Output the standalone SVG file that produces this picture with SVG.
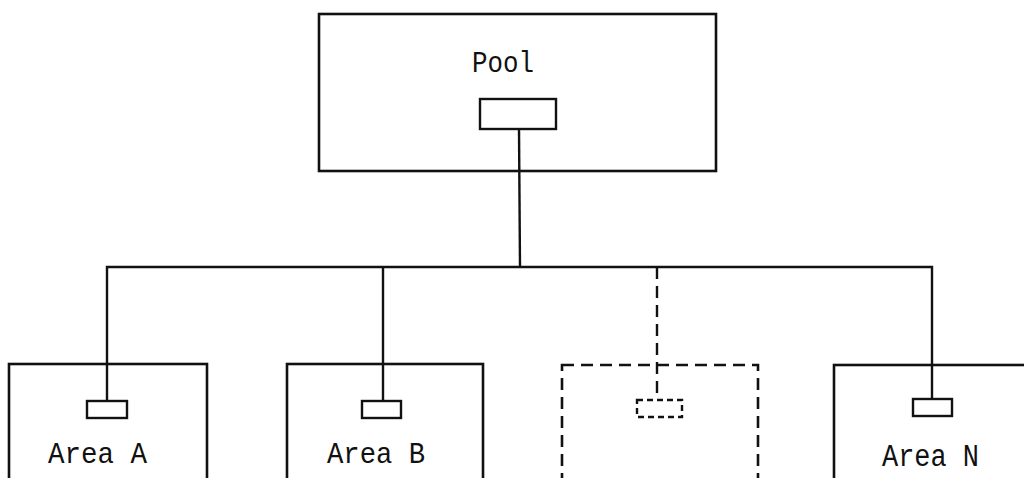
<svg xmlns="http://www.w3.org/2000/svg" width="1024" height="478" viewBox="0 0 1024 478">
<style>
.box{fill:none;stroke:#111;stroke-width:2.6}
.port{fill:#fff;stroke:#111;stroke-width:2.4}
.dash{stroke-dasharray:12 7}
.sdash{stroke-dasharray:6 4}
.line{fill:none;stroke:#111;stroke-width:2.4}
text{font-family:"Liberation Mono","DejaVu Sans Mono",monospace;font-size:29px;fill:#111}
</style>
<rect width="1024" height="478" fill="#fff"/>
<g id="connectors">
<line class="line" x1="519" y1="129" x2="520" y2="267"/>
<polyline class="line" points="107,401 107,267 932,267 932,399"/>
<line class="line" x1="383" y1="267" x2="383" y2="401"/>
<line class="line dash" x1="657" y1="267" x2="657" y2="400"/>
</g>
<g id="pool">
<rect class="box" x="319" y="14" width="397" height="157"/>
<text x="472" y="72" textLength="62" lengthAdjust="spacingAndGlyphs">Pool</text>
<rect class="port" x="480" y="99" width="76" height="30"/>
</g>
<g id="areaA">
<rect class="box" x="9" y="364" width="198" height="130"/>
<rect class="port" x="87" y="401" width="40" height="17"/>
<text x="48" y="463" textLength="99" lengthAdjust="spacingAndGlyphs">Area A</text>
</g>
<g id="areaB">
<rect class="box" x="287" y="364" width="196" height="130"/>
<rect class="port" x="362" y="401" width="39" height="17"/>
<text x="327" y="463" textLength="98" lengthAdjust="spacingAndGlyphs">Area B</text>
</g>
<g id="areaDashed">
<rect class="box dash" x="562" y="365" width="196" height="130"/>
<rect class="port sdash" x="637" y="400" width="45" height="17"/>
</g>
<g id="areaN">
<rect class="box" x="834" y="365" width="220" height="130"/>
<rect class="port" x="913" y="399" width="39" height="17"/>
<text x="882" y="466" style="font-size:31px" textLength="97" lengthAdjust="spacingAndGlyphs">Area N</text>
</g>
</svg>
